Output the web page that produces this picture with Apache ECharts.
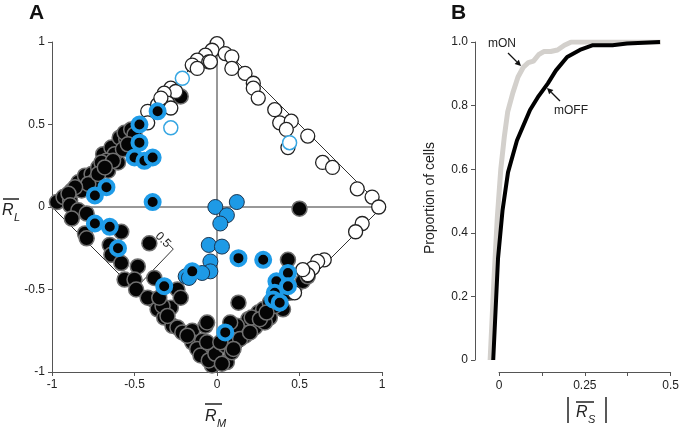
<!DOCTYPE html>
<html>
<head>
<meta charset="utf-8">
<script src="https://cdn.jsdelivr.net/npm/echarts@6/dist/echarts.min.js"></script>
<style>
  html, body { margin: 0; padding: 0; background: #fff; }
  #main { width: 682px; height: 430px; }
</style>
</head>
<body>
<div id="main"></div>
<script>
var myChart = echarts.init(document.getElementById('main'));

// panel A cells, [R_M, R_L]
var blackCells = [
  [-0.97,0.03],[-0.93,0.06],[-0.89,0.04],[-0.88,0.1],[-0.84,0.15],[-0.8,0.19],[-0.82,0.1],
  [-0.76,0.2],[-0.72,0.24],[-0.74,0.16],[-0.69,0.32],[-0.66,0.22],[-0.64,0.36],[-0.6,0.27],
  [-0.62,0.32],[-0.59,0.42],[-0.55,0.41],[-0.56,0.45],[-0.52,0.47],[-0.5,0.44],[-0.57,0.35],
  [-0.67,0.28],[-0.7,0.27],[-0.78,0.14],[-0.22,0.67],
  [-0.86,0.12],[-0.72,0.2],[-0.63,0.28],[-0.54,0.38],[-0.68,0.24],[-0.9,0.08],
  [-0.89,0.01],[-0.84,-0.02],[-0.79,-0.04],[-0.88,-0.07],[-0.8,-0.16],[-0.79,-0.19],
  [-0.58,-0.15],[-0.65,-0.23],[-0.64,-0.29],[-0.58,-0.34],[-0.48,-0.36],[-0.56,-0.44],
  [-0.5,-0.44],[-0.49,-0.5],[-0.41,-0.22],[-0.38,-0.43],[-0.39,-0.56],[-0.36,-0.62],
  [-0.28,-0.61],[-0.24,-0.5],[-0.22,-0.55],[-0.32,-0.67],[-0.27,-0.72],[-0.24,-0.73],
  [-0.21,-0.76],[-0.15,-0.75],[-0.07,-0.72],[-0.15,-0.82],[-0.09,-0.81],[-0.07,-0.85],
  [-0.02,-0.9],[-0.03,-0.96],[-0.33,-0.6],[-0.3,-0.66],[-0.18,-0.78],[-0.12,-0.86],
  [-0.42,-0.55],[-0.35,-0.55],[-0.1,-0.9],[-0.05,-0.93],
  [0.5,-0.01],[0.43,-0.32],[0.13,-0.58],[-0.01,-0.89],[0.05,-0.84],[0.06,-0.94],
  [0.11,-0.82],[0.16,-0.72],[0.19,-0.68],[0.23,-0.73],[0.25,-0.64],[0.28,-0.62],
  [0.32,-0.67],[0.29,-0.7],[0.17,-0.78],[0.12,-0.72],[0.08,-0.7],[-0.06,-0.7],
  [-0.06,-0.82],[0.03,-0.95],[0.21,-0.67],[0.32,-0.58],[0.47,-0.49],[0.52,-0.45],
  [0.55,-0.42],[0.4,-0.62],[0.14,-0.8],[0.09,-0.88],[0.02,-0.82],[0.26,-0.68],
  [0.35,-0.6],[0.38,-0.55],[0.44,-0.52],[0.3,-0.64],[0.2,-0.76],[0.1,-0.86]
];
var openCells = [
  [0,0.99],[-0.03,0.95],[-0.07,0.92],[-0.12,0.89],[-0.05,0.88],[-0.15,0.86],[-0.12,0.84],
  [0.05,0.93],[0.09,0.91],[-0.04,0.88],[0.09,0.84],[0.17,0.81],[0.22,0.75],[0.22,0.72],
  [0.25,0.66],[0.35,0.59],[0.38,0.51],[0.45,0.52],[0.42,0.47],[0.43,0.36],[0.55,0.43],
  [0.64,0.27],[0.7,0.24],[0.85,0.11],[0.94,0.06],[0.98,0.0],
  [0.88,-0.1],[0.84,-0.15],[0.65,-0.32],[0.61,-0.33],[0.58,-0.37],[0.55,-0.41],
  [0.52,-0.38],[0.47,-0.52],
  [-0.28,0.72],[-0.25,0.7],[-0.32,0.69],[-0.3,0.63],[-0.28,0.6],[-0.42,0.58],
  [-0.42,0.51],[-0.36,0.62],[-0.34,0.66]
];
var blueCells = [
  [-0.01,0.0],[0.12,0.03],[0.06,-0.05],[0.02,-0.1],[-0.05,-0.23],[0.03,-0.24],
  [-0.04,-0.33],[-0.04,-0.39],[-0.09,-0.4],[-0.19,-0.42],[-0.17,-0.43]
];
var ringCells = [
  [-0.36,0.58],[-0.47,0.5],[-0.47,0.39],[-0.5,0.3],[-0.44,0.28],[-0.39,0.3],
  [-0.74,0.07],[-0.67,0.12],[-0.39,0.03],[-0.74,-0.1],[-0.65,-0.12],[-0.6,-0.25],
  [-0.32,-0.48],[-0.15,-0.39],[0.13,-0.31],[0.28,-0.32],[0.43,-0.4],[0.36,-0.45],
  [0.43,-0.48],[0.35,-0.52],[0.34,-0.56],[0.38,-0.58],[0.05,-0.76]
];
var blueOpenCells = [[-0.21,0.78],[-0.28,0.48],[0.44,0.39]];

// frame of panel A
var diamond = [[-1,0],[0,1],[1,0],[0,-1],[-1,0]];
var vLine = [[0,1],[0,-1]];
var hLine = [[-1,0],[1,0]];
var scaleBar = [[-0.5,-0.5],[-0.265,-0.255],[-0.29,-0.23]];

// panel B cumulative curves, [|R_S|, proportion]
var mON = [
  [-0.026,0],[-0.015,0.25],[-0.005,0.45],[0.005,0.6],[0.015,0.7],[0.025,0.78],
  [0.04,0.84],[0.055,0.89],[0.07,0.92],[0.085,0.935],[0.1,0.94],[0.115,0.96],
  [0.13,0.97],[0.15,0.97],[0.17,0.975],[0.19,0.99],[0.21,1.0],[0.47,1.0]
];
var mOFF = [
  [-0.017,0],[-0.003,0.32],[0.01,0.47],[0.026,0.59],[0.052,0.69],[0.09,0.786],
  [0.115,0.83],[0.142,0.87],[0.165,0.91],[0.198,0.953],[0.235,0.975],[0.273,0.99],
  [0.33,0.99],[0.372,0.995],[0.468,1.0]
];

var font = 'Liberation Sans, Arial, sans-serif';
var axisCol = '#555';
var labelStyle = { color: '#222', fontSize: 12, fontFamily: font };

function frameLine(data) {
  return {
    type: 'line', xAxisIndex: 0, yAxisIndex: 0, data: data, symbol: 'none',
    silent: true, z: 1, lineStyle: { color: '#333', width: 1 }
  };
}
function cells(data, size, fill, stroke, bw, z) {
  return {
    type: 'scatter', xAxisIndex: 0, yAxisIndex: 0, data: data, symbolSize: size,
    z: z, itemStyle: { color: fill, borderColor: stroke, borderWidth: bw, opacity: 1 }
  };
}
function arrow(x1, y1, x2, y2) {
  var a = Math.atan2(y2 - y1, x2 - x1), L = 6, w = 3;
  var bx = x2 - L * Math.cos(a), by = y2 - L * Math.sin(a);
  var nx = -Math.sin(a) * w, ny = Math.cos(a) * w;
  return [
    { type: 'line', shape: { x1: x1, y1: y1, x2: bx, y2: by }, style: { stroke: '#111', lineWidth: 1.3 } },
    { type: 'polygon', shape: { points: [[x2, y2], [bx + nx, by + ny], [bx - nx, by - ny]] }, style: { fill: '#111' } }
  ];
}

var option = {
  animation: false,
  backgroundColor: '#fff',
  grid: [
    { left: 52, top: 42, width: 330, height: 330 },
    { left: 475, top: 42, width: 196, height: 318 },
    { left: 499, top: 42, width: 172, height: 330 }
  ],
  xAxis: [
    {
      gridIndex: 0, type: 'value', min: -1, max: 1, interval: 0.5,
      axisLine: { onZero: false, lineStyle: { color: axisCol } },
      axisTick: { length: 4, lineStyle: { color: axisCol } },
      axisLabel: Object.assign({ margin: 7 }, labelStyle),
      splitLine: { show: false }
    },
    { gridIndex: 1, type: 'value', min: -0.07, max: 0.5, show: false, axisLine: { onZero: false } },
    {
      gridIndex: 2, type: 'value', min: 0, max: 0.5, interval: 0.125,
      axisLine: { onZero: false, lineStyle: { color: axisCol } },
      axisTick: { length: 4, lineStyle: { color: axisCol } },
      axisLabel: Object.assign({
        margin: 8,
        formatter: function (v) { return (Math.round(v * 8) % 2 === 0) ? String(v) : ''; }
      }, labelStyle),
      splitLine: { show: false }
    }
  ],
  yAxis: [
    {
      gridIndex: 0, type: 'value', min: -1, max: 1, interval: 0.5,
      axisLine: { show: true, onZero: false, lineStyle: { color: axisCol } },
      axisTick: { show: true, length: 4, lineStyle: { color: axisCol } },
      axisLabel: Object.assign({ margin: 7 }, labelStyle),
      splitLine: { show: false }
    },
    {
      gridIndex: 1, type: 'value', min: 0, max: 1, interval: 0.2,
      axisLine: { show: true, onZero: false, lineStyle: { color: axisCol } },
      axisTick: { show: true, length: 4, lineStyle: { color: axisCol } },
      axisLabel: Object.assign({
        margin: 7,
        formatter: function (v) { return v === 0 ? '0' : v.toFixed(1); }
      }, labelStyle),
      splitLine: { show: false }
    },
    { gridIndex: 2, type: 'value', min: 0, max: 1, show: false, axisLine: { onZero: false } }
  ],
  series: [
    frameLine(diamond),
    frameLine(vLine),
    frameLine(hLine),
    frameLine(scaleBar),
    cells(blackCells, 15, '#050505', '#707070', 1.5, 3),
    cells(openCells, 14, '#ffffff', '#222222', 1.3, 4),
    cells(blueCells, 15, '#1e9ae6', '#1b3550', 1, 5),
    cells(ringCells, 14, '#050505', '#1f9ce8', 4, 6),
    cells(blueOpenCells, 14, '#ffffff', '#36a6e2', 1.5, 7),
    {
      type: 'line', xAxisIndex: 1, yAxisIndex: 1, data: mON, symbol: 'none',
      lineStyle: { color: '#d3d0cc', width: 5 }, z: 3
    },
    {
      type: 'line', xAxisIndex: 1, yAxisIndex: 1, data: mOFF, symbol: 'none',
      lineStyle: { color: '#000', width: 4 }, z: 4
    }
  ],
  graphic: [
    { type: 'text', left: 29, top: 3, style: { text: 'A', font: 'bold 21px ' + font, fill: '#111' } },
    { type: 'text', left: 451, top: 3, style: { text: 'B', font: 'bold 21px ' + font, fill: '#111' } },
    // R_L with bar
    { type: 'text', x: 2, y: 203, style: { text: 'R', font: 'italic 16px ' + font, fill: '#222' } },
    { type: 'text', x: 14, y: 212, style: { text: 'L', font: 'italic 11px ' + font, fill: '#222' } },
    { type: 'line', shape: { x1: 3, y1: 199, x2: 19, y2: 199 }, style: { stroke: '#222', lineWidth: 1.5 } },
    // R_M with bar
    { type: 'text', x: 205, y: 409, style: { text: 'R', font: 'italic 16px ' + font, fill: '#222' } },
    { type: 'text', x: 217, y: 418, style: { text: 'M', font: 'italic 11px ' + font, fill: '#222' } },
    { type: 'line', shape: { x1: 205, y1: 404, x2: 222, y2: 404 }, style: { stroke: '#222', lineWidth: 1.5 } },
    // |R_S| with bar
    { type: 'line', shape: { x1: 568, y1: 397, x2: 568, y2: 423 }, style: { stroke: '#222', lineWidth: 1.5 } },
    { type: 'line', shape: { x1: 606, y1: 397, x2: 606, y2: 423 }, style: { stroke: '#222', lineWidth: 1.5 } },
    { type: 'text', x: 576, y: 405, style: { text: 'R', font: 'italic 16px ' + font, fill: '#222' } },
    { type: 'text', x: 588, y: 414, style: { text: 'S', font: 'italic 11px ' + font, fill: '#222' } },
    { type: 'line', shape: { x1: 576, y1: 402, x2: 594, y2: 402 }, style: { stroke: '#222', lineWidth: 1.5 } },
    // scale bar label
    {
      type: 'text', x: 163, y: 240, rotation: -Math.PI / 4, z: 10,
      style: { text: '0.5', font: '12px ' + font, fill: '#222', align: 'center', verticalAlign: 'middle' }
    },
    // panel B y title
    {
      type: 'text', x: 430, y: 198, rotation: Math.PI / 2,
      style: { text: 'Proportion of cells', font: '14px ' + font, fill: '#222', align: 'center', verticalAlign: 'middle' }
    },
    { type: 'text', x: 502, y: 44, style: { text: 'mON', font: '12px ' + font, fill: '#222', align: 'center', verticalAlign: 'middle' } },
    { type: 'text', x: 571, y: 111, style: { text: 'mOFF', font: '12px ' + font, fill: '#222', align: 'center', verticalAlign: 'middle' } }
  ].concat(arrow(508, 53, 521, 66)).concat(arrow(560, 101, 547, 88))
};

myChart.setOption(option);
</script>
</body>
</html>
